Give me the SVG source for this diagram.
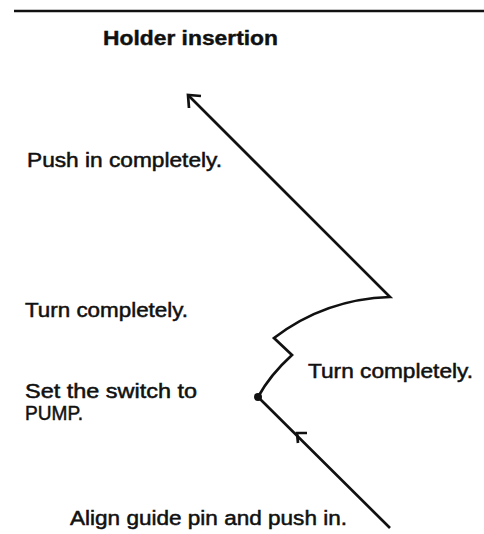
<svg xmlns="http://www.w3.org/2000/svg" width="484" height="534" viewBox="0 0 484 534">
<style>
.t{font-family:"Liberation Sans",Arial,sans-serif;font-size:20px;fill:#111;stroke:#111;stroke-width:0.5}
.h{font-family:"Liberation Sans",Arial,sans-serif;font-size:20px;font-weight:bold;fill:#111;stroke:#111;stroke-width:0.4}
.ln{fill:none;stroke:#111;stroke-width:2.7;stroke-linejoin:miter}
.hd{fill:none;stroke:#111;stroke-width:2.7;stroke-linecap:butt}
</style>
<rect width="484" height="534" fill="#fff"/>
<line x1="14" y1="11" x2="484" y2="11" stroke="#111" stroke-width="2.5"/>
<g id="title"><text class="h" x="103" y="45" textLength="175" lengthAdjust="spacingAndGlyphs">Holder insertion</text></g>
<g id="label-push"><text class="t" x="27" y="167" textLength="195" lengthAdjust="spacingAndGlyphs">Push in completely.</text></g>
<g id="label-turn1"><text class="t" x="25" y="317" textLength="163" lengthAdjust="spacingAndGlyphs">Turn completely.</text></g>
<g id="label-turn2"><text class="t" x="308" y="378" textLength="165" lengthAdjust="spacingAndGlyphs">Turn completely.</text></g>
<g id="label-switch"><text class="t" x="25" y="398" textLength="172" lengthAdjust="spacingAndGlyphs">Set the switch to</text><text class="t" x="25" y="420" textLength="58" lengthAdjust="spacingAndGlyphs">PUMP.</text></g>
<g id="label-align"><text class="t" x="70" y="525" textLength="277" lengthAdjust="spacingAndGlyphs">Align guide pin and push in.</text></g>
<g id="connectors">
<path class="ln" d="M390,528 L258,397 Q270,375 292,355 L274,338 Q325,299 390,297 L188,95"/>
<circle cx="258" cy="397" r="4" fill="#111"/>
<path class="hd" d="M201,96 L188,95 L189,108"/>
<path class="hd" d="M307,433 L297,433 L298,443"/>
</g>
</svg>
